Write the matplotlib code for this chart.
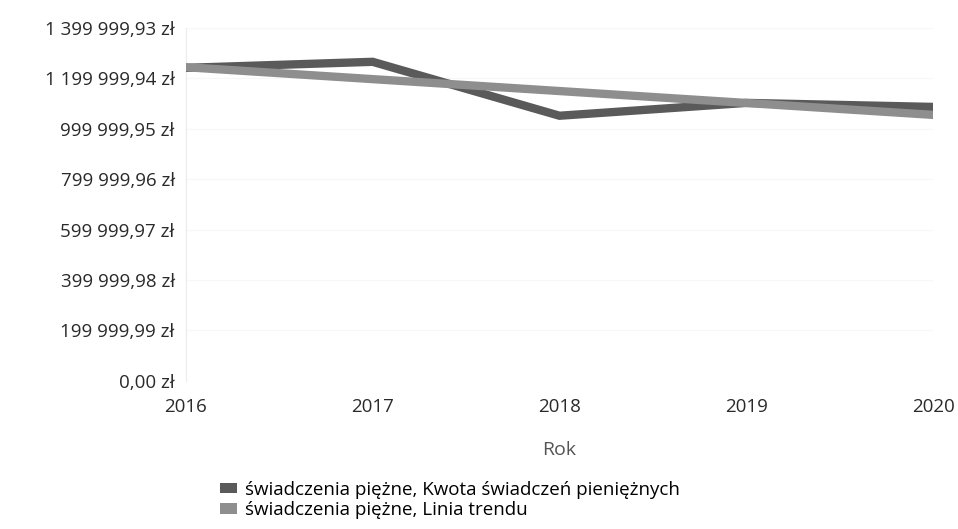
import matplotlib.pyplot as plt
import numpy as np
from matplotlib.patches import Patch
from matplotlib.ticker import FuncFormatter

# values
years = [2016, 2017, 2018, 2019, 2020]
kwota = [1242000, 1266000, 1052000, 1103000, 1087000]
step = 199999.99
y_ticks = [step * i for i in range(8)]

label_kwota = "świadczenia piężne, Kwota świadczeń pieniężnych"
label_trend = "świadczenia piężne, Linia trendu"

# linear trend over the data
coef = np.polyfit(years, kwota, 1)
trend = np.polyval(coef, years)

plt.rcParams['font.family'] = ['Open Sans', 'DejaVu Sans']


def zl(v, pos=None):
    s = f"{v:,.2f}".replace(",", " ").replace(".", ",")
    return s + " zł"


fig = plt.figure(figsize=(9.58, 5.29), dpi=100)
ax = fig.add_axes([0.194, 0.280, 0.780, 0.667])

ax.plot(years, kwota, color='#5a5a5a', linewidth=6, solid_joinstyle='miter', zorder=3)
ax.plot(years, trend, color='#8e8e8e', linewidth=6, zorder=4)

ax.set_xlim(2016, 2020)
ax.set_ylim(0, y_ticks[-1])
ax.set_xticks(years)
ax.set_yticks(y_ticks)
ax.yaxis.set_major_formatter(FuncFormatter(zl))

for s in ['top', 'right', 'bottom']:
    ax.spines[s].set_visible(False)
ax.spines['left'].set_color('#ececec')
ax.grid(axis='y', color='#f7f7f7', linewidth=0.8)
ax.tick_params(axis='both', length=0, labelsize=13.5, colors='#2a2a2a')
ax.tick_params(axis='x', pad=12)
ax.tick_params(axis='y', pad=8)

ax.set_xlabel('Rok', fontsize=14, color='#555555', labelpad=18)

handles = [Patch(facecolor='#5a5a5a', label=label_kwota),
           Patch(facecolor='#8e8e8e', label=label_trend)]
fig.legend(handles=handles, loc='upper left', bbox_to_anchor=(0.222, 0.105),
           frameon=False, fontsize=13.5, handlelength=0.9, handleheight=0.45,
           handletextpad=0.45, labelspacing=0.12, borderaxespad=0)

plt.savefig("out.png", dpi=100)
